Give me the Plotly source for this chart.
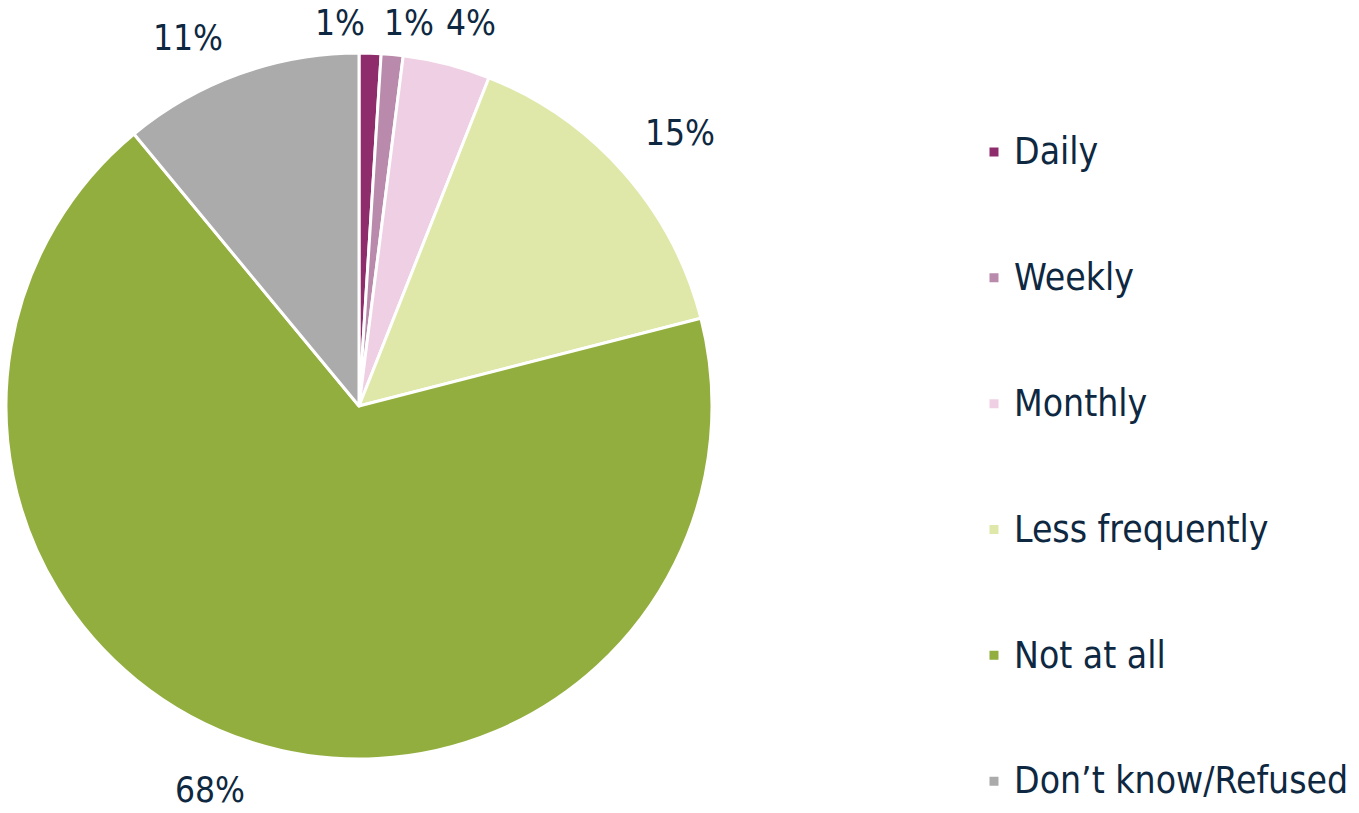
import math
import plotly.graph_objects as go

categories = ["Daily", "Weekly", "Monthly", "Less frequently", "Not at all", "Don’t know/Refused"]
values = [1, 1, 4, 15, 68, 11]
colors = ["#8e2c6c", "#b98aab", "#efcfe3", "#dfe8a8", "#92ae3e", "#ababab"]

# small pixel nudges for the percentage labels (style only)
label_offsets = [(-7, 0), (-2, 0), (-4, 0), (11, 0), (-21, -9), (-31, 15)]

W, H = 1359, 813
TEXT = "#0e2841"
FONT = "DejaVu Sans Condensed, DejaVu Sans"
dom_x = [6 / W, 712 / W]
dom_y = [54 / H, 760 / H]

legend_labels = [" <br><span style='font-size:37px'>" + c + "</span><br> " for c in categories]

fig = go.Figure(go.Pie(
    labels=legend_labels,
    values=values,
    sort=False,
    direction="clockwise",
    rotation=0,
    marker=dict(colors=colors, line=dict(color="white", width=3)),
    textinfo="none",
    hoverinfo="skip",
    domain=dict(x=dom_x, y=dom_y),
))

# percentage labels placed outside the slices, at each slice's mid-angle
cx = (dom_x[0] + dom_x[1]) / 2 * W
cy = (1 - (dom_y[0] + dom_y[1]) / 2) * H
R = (dom_y[1] - dom_y[0]) * H / 2
total = sum(values)
label_r = 1.17 * R
top_limit = 23
min_gap = 64

pos = []
cum = 0
for v in values:
    mid = (cum + v / 2) / total * 2 * math.pi
    cum += v
    x = cx + label_r * math.sin(mid)
    y = cy - label_r * math.cos(mid)
    pos.append([x, max(y, top_limit)])

# spread labels that were pushed onto the top row so they don't overlap
row = [i for i, p in enumerate(pos) if p[1] == top_limit]
row.sort(key=lambda i: pos[i][0])
for _ in range(200):
    moved = False
    for a, b in zip(row, row[1:]):
        gap = pos[b][0] - pos[a][0]
        if gap < min_gap:
            d = (min_gap - gap) / 2
            pos[a][0] -= d
            pos[b][0] += d
            moved = True
    if not moved:
        break

for v, (x, y), (dx, dy) in zip(values, pos, label_offsets):
    fig.add_annotation(
        x=(x + dx) / W, y=1 - (y + dy) / H, xref="paper", yref="paper",
        text=f"{v}%", showarrow=False,
        xanchor="center", yanchor="middle",
        font=dict(size=35, color=TEXT, family=FONT),
    )

fig.update_layout(
    width=W, height=H,
    margin=dict(l=0, r=0, t=0, b=0, autoexpand=False),
    paper_bgcolor="white",
    font=dict(family=FONT, color=TEXT),
    showlegend=True,
    legend=dict(x=0.7167, y=1 - 467 / H, xanchor="left", yanchor="middle",
                font=dict(size=31.5, color=TEXT, family=FONT), itemwidth=30,
                traceorder="normal", valign="middle"),
)

fig.write_html("out.html", config={"displayModeBar": False},
               post_script="document.body.style.margin='0';")
